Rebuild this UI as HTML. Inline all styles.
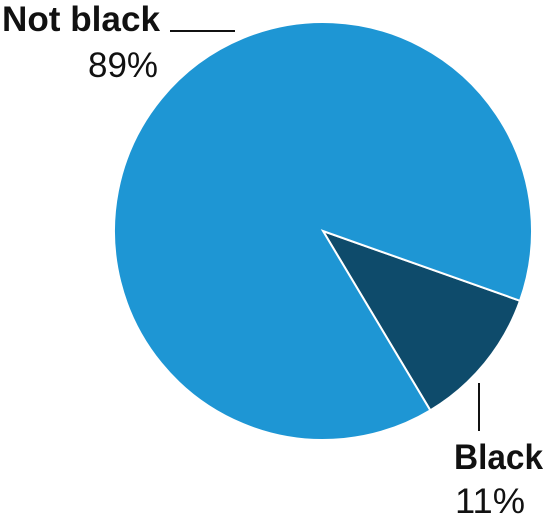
<!DOCTYPE html>
<html><head><meta charset="utf-8"><style>
html,body{margin:0;padding:0;background:#fff;width:543px;height:524px;overflow:hidden}
text{font-family:"Liberation Sans",sans-serif;fill:#111}
</style></head><body>
<svg id="chart" width="543" height="524" viewBox="0 0 543 524">
<g id="slices"></g>
<line x1="170" y1="31" x2="235" y2="31" stroke="#111" stroke-width="2"/>
<line x1="479" y1="383" x2="479" y2="431" stroke="#111" stroke-width="2"/>
<text x="160" y="31" text-anchor="end" font-size="35" font-weight="bold" textLength="158" lengthAdjust="spacingAndGlyphs">Not black</text>
<text x="158" y="77" text-anchor="end" font-size="35" textLength="70" lengthAdjust="spacingAndGlyphs">89%</text>
<text x="454" y="469" font-size="35" font-weight="bold" textLength="89" lengthAdjust="spacingAndGlyphs">Black</text>
<text x="455" y="513" font-size="35" textLength="70" lengthAdjust="spacingAndGlyphs">11%</text>
</svg>
<script>
const categories = ["Black", "Not black"];
const values = [11, 89];
const colors = ["#0e4b6b", "#1e96d4"];
const cx = 323, cy = 231, r = 209, startDeg = 109.5;
const g = document.getElementById('slices');
const total = values.reduce((a,b)=>a+b,0);
let a0 = startDeg;
function pt(deg){const t=(deg-90)*Math.PI/180;return [cx+r*Math.cos(t), cy+r*Math.sin(t)];}
values.forEach((v,i)=>{
  const a1 = a0 + v/total*360;
  const p0=pt(a0), p1=pt(a1);
  const large = (a1-a0)>180?1:0;
  const p=document.createElementNS('http://www.w3.org/2000/svg','path');
  p.setAttribute('d',`M${cx},${cy}L${p0[0]},${p0[1]}A${r},${r} 0 ${large} 1 ${p1[0]},${p1[1]}Z`);
  p.setAttribute('fill',colors[i]);
  p.setAttribute('stroke','#fff');
  p.setAttribute('stroke-width','2');
  
  
  g.appendChild(p);
  a0=a1;
});
</script>
</body></html>
